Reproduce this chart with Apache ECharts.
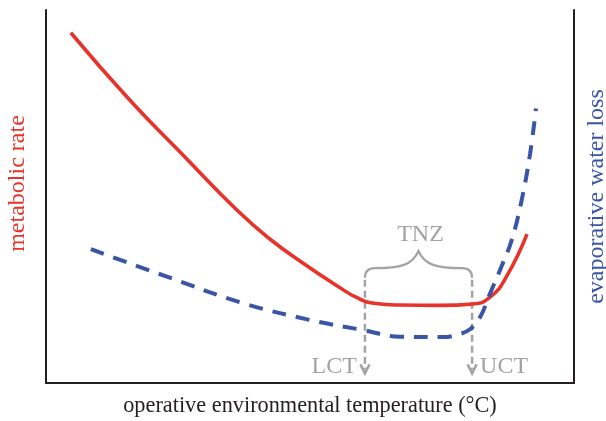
<!DOCTYPE html>
<html>
<head>
<meta charset="utf-8">
<script src="https://cdn.jsdelivr.net/npm/echarts@6/dist/echarts.min.js"></script>
<style>html,body{margin:0;padding:0;background:#fff}#c{width:606px;height:421px}</style>
</head>
<body>
<div id="c"></div>
<script>
// temperature (arbitrary units 0-100) and metabolic rate (arbitrary units 0-100)
var metabolicX = [4.7, 15.9, 26.3, 36.2, 42.4, 48.7, 55.1, 59.0, 62.5, 67.0, 74.6, 80.9, 84.1, 87.2, 91.1];
var metabolicY = [93.9, 75.8, 60.6, 46.3, 38.6, 32.1, 26.1, 22.8, 21.3, 20.9, 20.8, 21.2, 23.0, 28.5, 39.9];
// evaporative water loss (arbitrary units)
var ewlX = [8.5, 22.9, 37.3, 50.0, 60.0, 67.0, 75.2, 78.5, 80.3, 82.2, 84.1, 86.2, 88.2, 90.1, 91.7, 92.8];
var ewlY = [35.9, 28.5, 21.4, 16.9, 14.2, 12.4, 12.3, 13.2, 14.4, 17.6, 24.0, 31.0, 38.3, 49.1, 61.6, 73.6];
// thermoneutral zone annotation
var zoneNames = ['LCT', 'UCT'];
var zoneX = [60.4, 80.7];
var zoneTitle = 'TNZ';
var braceLevels = [28.2, 30.8, 35.4]; // ends, shoulders, cusp
var arrowTipY = 2.6;

var RED = '#e8332a', BLUE = '#3a55a5', GRAY = '#a3a3a3', INK = '#231f20';
var FONT = '"Liberation Serif", "Times New Roman", serif';

function pairs(xs, ys) { return xs.map(function (x, i) { return [x, ys[i]]; }); }

var chart = echarts.init(document.getElementById('c'));
chart.setOption({
  animation: false,
  grid: { left: 46, right: 32, top: 10, bottom: 38, outerBoundsMode: 'none', containLabel: false },
  xAxis: {
    type: 'value', min: 0, max: 100,
    name: 'operative environmental temperature (\u00B0C)',
    nameLocation: 'middle', nameGap: 12,
    nameTextStyle: { fontFamily: FONT, fontSize: 22.3, color: INK },
    axisLine: { lineStyle: { color: INK, width: 2 } },
    axisTick: { show: false }, axisLabel: { show: false }, splitLine: { show: false }
  },
  yAxis: [{
    type: 'value', min: 0, max: 100, position: 'left',
    name: 'metabolic rate', nameLocation: 'middle', nameGap: 16, nameRotate: 90,
    nameTextStyle: { fontFamily: FONT, fontSize: 24, color: RED, padding: [0, 0, 0, 26] },
    axisLine: { show: true, lineStyle: { color: INK, width: 2 } },
    axisTick: { show: false }, axisLabel: { show: false }, splitLine: { show: false }
  }, {
    type: 'value', min: 0, max: 100, position: 'right',
    name: 'evaporative water loss', nameLocation: 'middle', nameGap: 11, nameRotate: 90,
    nameTextStyle: { fontFamily: FONT, fontSize: 24, color: BLUE },
    axisLine: { show: true, lineStyle: { color: INK, width: 2 } },
    axisTick: { show: false }, axisLabel: { show: false }, splitLine: { show: false }
  }],
  series: [{
    type: 'line', data: pairs(metabolicX, metabolicY), smooth: 0.5, showSymbol: false,
    lineStyle: { color: RED, width: 3.6 }, z: 3
  }, {
    type: 'line', yAxisIndex: 1, data: pairs(ewlX, ewlY), smooth: 0.4, showSymbol: false,
    lineStyle: { color: BLUE, width: 4, type: [14, 10] }, z: 3
  }, {
    type: 'custom', data: [[zoneX[0], zoneX[1]]], z: 2,
    renderItem: function (params, api) {
      var lx = api.coord([zoneX[0], braceLevels[0]]);
      var rx = api.coord([zoneX[1], braceLevels[0]]);
      var sh = api.coord([0, braceLevels[1]])[1];
      var cusp = api.coord([(zoneX[0] + zoneX[1]) / 2, braceLevels[2]]);
      var tip = api.coord([0, arrowTipY])[1];
      var L = lx[0], R = rx[0], yE = lx[1], cx = cusp[0], cy = cusp[1];
      var d = 'M' + L + ' ' + yE +
        ' Q' + L + ' ' + sh + ' ' + (L + 10) + ' ' + sh +
        ' C' + (L + 35) + ' ' + sh + ' ' + (cx - 6) + ' ' + (sh - 3) + ' ' + cx + ' ' + cy +
        ' C' + (cx + 6) + ' ' + (sh - 3) + ' ' + (R - 35) + ' ' + sh + ' ' + (R - 10) + ' ' + sh +
        ' Q' + R + ' ' + sh + ' ' + R + ' ' + yE;
      var children = [{
        type: 'path', shape: { pathData: d },
        style: { fill: 'none', stroke: GRAY, lineWidth: 2.2 }
      }];
      [L, R].forEach(function (x, i) {
        children.push({
          type: 'line', shape: { x1: x, y1: yE + 2, x2: x, y2: tip - 4 },
          style: { stroke: GRAY, lineWidth: 2.5, lineDash: [7, 4] }
        });
        children.push({
          type: 'polyline', shape: { points: [[x - 4.5, tip - 9], [x, tip], [x + 4.5, tip - 9]] },
          style: { fill: 'none', stroke: GRAY, lineWidth: 2.6 }
        });
        children.push({
          type: 'text',
          style: {
            text: zoneNames[i], x: i === 0 ? x - 8 : x + 8, y: tip + 5,
            align: i === 0 ? 'right' : 'left', verticalAlign: 'bottom',
            fill: GRAY, font: '24px ' + FONT
          }
        });
      });
      children.push({
        type: 'text',
        style: { text: zoneTitle, x: cx + 2, y: cy - 4, align: 'center', verticalAlign: 'bottom', fill: GRAY, font: '24px ' + FONT }
      });
      return { type: 'group', children: children };
    }
  }]
});
</script>
</body>
</html>
